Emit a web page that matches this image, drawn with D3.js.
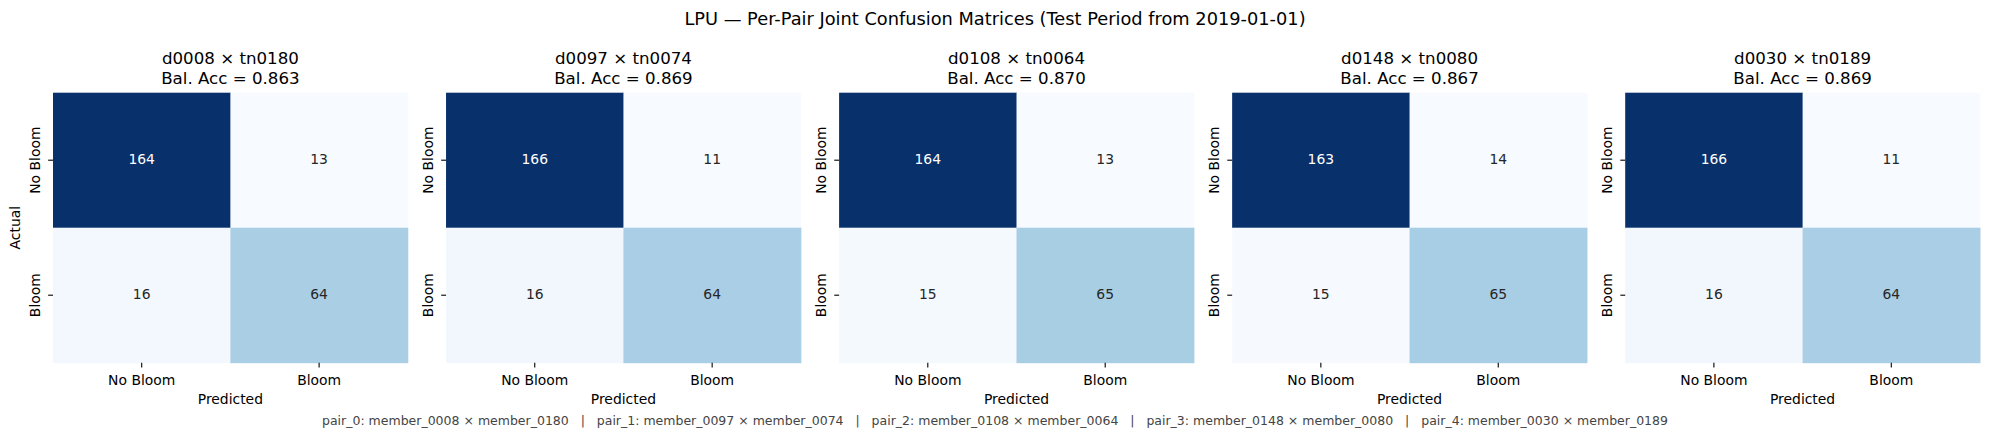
<!DOCTYPE html>
<html>
<head>
<meta charset="utf-8">
<script src="https://cdn.jsdelivr.net/npm/d3@7"></script>
<style>
  body { margin: 0; background: #fff; }
  svg { display: block; font-family: "DejaVu Sans", sans-serif; }
</style>
</head>
<body>
<script>
  // chart data
  var pairTitles = ['d0008 \u00d7 tn0180', 'd0097 \u00d7 tn0074', 'd0108 \u00d7 tn0064', 'd0148 \u00d7 tn0080', 'd0030 \u00d7 tn0189'];
  var balAcc = [0.863, 0.869, 0.870, 0.867, 0.869];
  var classes = ['No Bloom', 'Bloom'];
  // rows = actual, cols = predicted
  var matrices = [
    [[164, 13], [16, 64]],
    [[166, 11], [16, 64]],
    [[164, 13], [15, 65]],
    [[163, 14], [15, 65]],
    [[166, 11], [16, 64]]
  ];
  var members = [['0008', '0180'], ['0097', '0074'], ['0108', '0064'], ['0148', '0080'], ['0030', '0189']];
  var suptitle = 'LPU \u2014 Per-Pair Joint Confusion Matrices (Test Period from 2019-01-01)';

  // matplotlib "Blues"
  var bluesStops = ['#f7fbff', '#deebf7', '#c6dbef', '#9ecae1', '#6baed6', '#4292c6', '#2171b5', '#08519c', '#08306b'];
  var blues = d3.scaleLinear()
    .domain(d3.range(bluesStops.length).map(function (i) { return i / (bluesStops.length - 1); }))
    .range(bluesStops)
    .interpolate(d3.interpolateRgb);

  function lum(c) {
    var rgb = d3.rgb(c);
    var f = function (v) { v /= 255; return v <= 0.03928 ? v / 12.92 : Math.pow((v + 0.055) / 1.055, 2.4); };
    return 0.2126 * f(rgb.r) + 0.7152 * f(rgb.g) + 0.0722 * f(rgb.b);
  }

  var W = 1990, H = 443,
      plotTop = 92.7, plotBottom = 362.7,
      tickLen = 4.86, tickPad = 4.86;

  var svg = d3.select('body').append('svg')
    .attr('width', W)
    .attr('height', H);

  var panelX = d3.scaleBand()
    .domain(d3.range(matrices.length))
    .range([53, 1980])
    .paddingInner(0.0973);

  svg.append('text')
    .attr('x', W / 2)
    .attr('y', 25)
    .attr('text-anchor', 'middle')
    .style('font-size', '17.8px')
    .style('fill', '#000')
    .text(suptitle);

  matrices.forEach(function (m, p) {
    var x0 = panelX(p), bw = panelX.bandwidth();
    var vals = d3.merge(m);
    var norm = d3.scaleLinear().domain(d3.extent(vals)).range([0, 1]);

    var g = svg.append('g').attr('transform', 'translate(' + x0 + ',0)');

    var x = d3.scaleBand().domain(classes).range([0, bw]);
    var y = d3.scaleBand().domain(classes).range([plotTop, plotBottom]);

    var cells = [];
    m.forEach(function (row, r) {
      row.forEach(function (v, c) {
        cells.push({ actual: classes[r], pred: classes[c], v: v });
      });
    });

    g.selectAll('rect.cell')
      .data(cells)
      .enter()
      .append('rect')
      .attr('class', 'cell')
      .attr('x', function (d) { return x(d.pred); })
      .attr('y', function (d) { return y(d.actual); })
      .attr('width', x.bandwidth() + 0.5)
      .attr('height', y.bandwidth() + 0.5)
      .attr('fill', function (d) { return blues(norm(d.v)); });

    g.selectAll('text.val')
      .data(cells)
      .enter()
      .append('text')
      .attr('class', 'val')
      .attr('x', function (d) { return x(d.pred) + x.bandwidth() / 2; })
      .attr('y', function (d) { return y(d.actual) + y.bandwidth() / 2 + 4; })
      .attr('text-anchor', 'middle')
      .style('font-size', '13.9px')
      .style('fill', function (d) { return lum(blues(norm(d.v))) > 0.408 ? '#262626' : '#ffffff'; })
      .text(function (d) { return d.v; });

    // axes
    var xAxis = g.append('g')
      .attr('transform', 'translate(0,' + plotBottom + ')')
      .call(d3.axisBottom(x).tickSize(tickLen).tickPadding(tickPad));
    xAxis.select('.domain').remove();
    xAxis.selectAll('line').attr('stroke', '#000').attr('stroke-width', 1.1);
    xAxis.selectAll('text')
      .attr('y', 0).attr('dy', 0)
      .attr('transform', 'translate(0,22)')
      .style('font-family', '"DejaVu Sans", sans-serif')
      .style('font-size', '13.9px')
      .style('fill', '#000');

    var yAxis = g.append('g')
      .call(d3.axisLeft(y).tickSize(tickLen).tickPadding(tickPad));
    yAxis.select('.domain').remove();
    yAxis.selectAll('line').attr('stroke', '#000').attr('stroke-width', 1.1);
    yAxis.selectAll('text')
      .attr('x', 0).attr('dy', 0)
      .attr('text-anchor', 'middle')
      .attr('transform', 'translate(-13,0) rotate(-90)')
      .style('font-family', '"DejaVu Sans", sans-serif')
      .style('font-size', '13.9px')
      .style('fill', '#000');

    g.append('text')
      .attr('x', bw / 2)
      .attr('y', 404)
      .attr('text-anchor', 'middle')
      .style('font-size', '13.9px')
      .text('Predicted');

    if (p === 0) {
      g.append('text')
        .attr('transform', 'translate(-33,' + ((plotTop + plotBottom) / 2) + ') rotate(-90)')
        .attr('text-anchor', 'middle')
        .style('font-size', '13.9px')
        .text('Actual');
    }

    var t = g.append('text')
      .attr('text-anchor', 'middle')
      .style('font-size', '16.67px');
    t.append('tspan').attr('x', bw / 2).attr('y', 64.4).text(pairTitles[p]);
    t.append('tspan').attr('x', bw / 2).attr('y', 84.4).text('Bal. Acc = ' + balAcc[p].toFixed(3));
  });

  var footer = members.map(function (mm, i) {
    return 'pair_' + i + ': member_' + mm[0] + ' \u00d7 member_' + mm[1];
  }).join('   |   ');

  svg.append('text')
    .attr('x', W / 2)
    .attr('y', 424.5)
    .attr('text-anchor', 'middle')
    .attr('xml:space', 'preserve')
    .style('white-space', 'pre')
    .style('font-size', '12.5px')
    .style('fill', '#444')
    .text(footer);
</script>
</body>
</html>
